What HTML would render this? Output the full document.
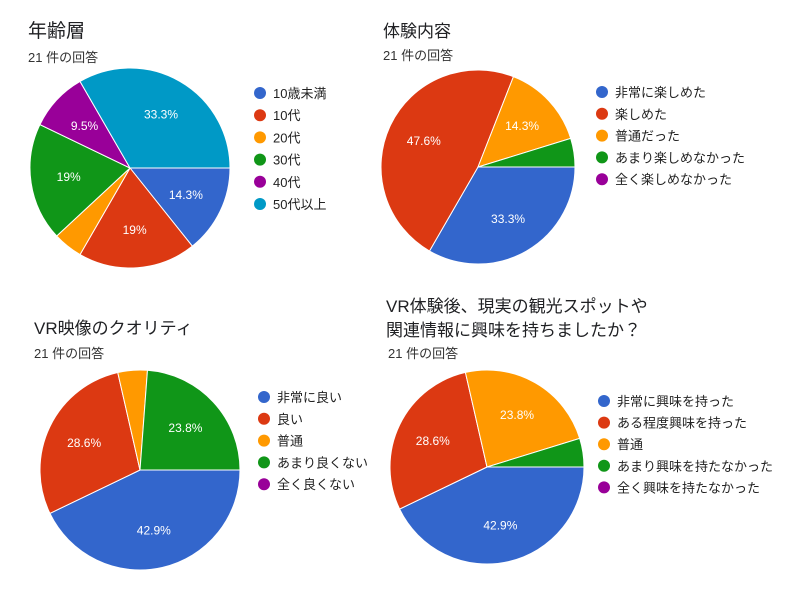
<!DOCTYPE html>
<html><head><meta charset="utf-8"><style>
body{margin:0;background:#fff;width:800px;height:600px;overflow:hidden}
svg{font-family:"Liberation Sans","Noto Sans CJK JP",sans-serif}
</style></head><body>
<svg id="s" width="800" height="600">
<text x="28" y="37" font-size="19" fill="#202124">年齢層</text>
<text x="28" y="62" font-size="13" fill="#333">21 件の回答</text>
<text x="383" y="37" font-size="17" fill="#202124">体験内容</text>
<text x="383" y="60" font-size="13" fill="#333">21 件の回答</text>
<text x="34" y="334" font-size="17" fill="#202124">VR映像のクオリティ</text>
<text x="34" y="358" font-size="13" fill="#333">21 件の回答</text>
<text x="386" y="312" font-size="17" fill="#202124">VR体験後、現実の観光スポットや</text>
<text x="386" y="336" font-size="17" fill="#202124">関連情報に興味を持ちましたか？</text>
<text x="388" y="358" font-size="13" fill="#333">21 件の回答</text>
</svg>
<script>
const labels1=["10歳未満","10代","20代","30代","40代","50代以上"];
const values1=[3,4,1,4,2,7];
const pct1=["14.3%","19%","","19%","9.5%","33.3%"];
const labels2=["非常に楽しめた","楽しめた","普通だった","あまり楽しめなかった","全く楽しめなかった"];
const values2=[7,10,3,1,0];
const pct2=["33.3%","47.6%","14.3%","",""];
const labels3=["非常に良い","良い","普通","あまり良くない","全く良くない"];
const values3=[9,6,1,5,0];
const pct3=["42.9%","28.6%","","23.8%",""];
const labels4=["非常に興味を持った","ある程度興味を持った","普通","あまり興味を持たなかった","全く興味を持たなかった"];
const values4=[9,6,5,1,0];
const pct4=["42.9%","28.6%","23.8%","",""];
const colors=["#3366cc","#dc3912","#ff9900","#109618","#990099","#0099c6"];
const svg=document.getElementById('s');
const NS="http://www.w3.org/2000/svg";
function mk(t,a){const e=document.createElementNS(NS,t);for(const k in a)e.setAttribute(k,a[k]);svg.appendChild(e);return e;}
function pie(id,labels,values,pct,cx,cy,r,lx,ly,ls){
  const tot=values.reduce((a,b)=>a+b,0);
  let a0=0;
  values.forEach((v,i)=>{
    if(v<=0)return;
    const a1=a0+v/tot*2*Math.PI;
    const p=(a)=>[cx+r*Math.cos(a),cy+r*Math.sin(a)];
    const [x0,y0]=p(a0),[x1,y1]=p(a1);
    const large=(a1-a0)>Math.PI?1:0;
    const path=mk('path',{d:`M${cx},${cy}L${x0},${y0}A${r},${r} 0 ${large} 1 ${x1},${y1}Z`,fill:colors[i],stroke:'#fff','stroke-width':1});
    
    
    if(pct[i]){
      const m=(a0+a1)/2;
      const t=mk('text',{x:cx+0.62*r*Math.cos(m),y:cy+0.62*r*Math.sin(m)+4,'font-size':12,fill:'#fff','text-anchor':'middle'});
      t.textContent=pct[i];
      
      
    }
    a0=a1;
  });
  labels.forEach((l,i)=>{
    const c=mk('circle',{cx:lx,cy:ly+i*ls,r:6,fill:colors[i]});
    
    
    const t=mk('text',{x:lx+13,y:ly+i*ls+5,'font-size':13,fill:'#222'});
    t.textContent=l;
    
    
  });
}
pie('age',labels1,values1,pct1,130,168,100,260,93,22.2);
pie('experience',labels2,values2,pct2,478,167,97,602,92,21.8);
pie('quality',labels3,values3,pct3,140,470,100,264,397,21.8);
pie('interest',labels4,values4,pct4,487,467,97,604,401,21.6);
</script>
</body></html>
